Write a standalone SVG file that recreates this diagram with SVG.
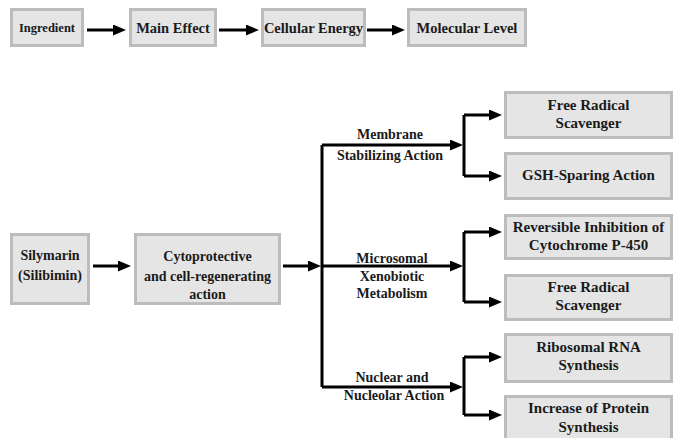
<svg xmlns="http://www.w3.org/2000/svg" width="676" height="438" viewBox="0 0 676 438">
<style>
.box{fill:#e5e5e5;stroke:#bcbcbc;stroke-width:3}
.t{font-family:'Liberation Serif','DejaVu Serif',serif;font-weight:700;font-size:14px;fill:#1a1a1a;text-anchor:middle}
.sm{font-size:12.5px}
.hd{font-size:14.5px}
.rb{font-size:15px}
.ln{fill:none;stroke:#000;stroke-width:3}
.ar{marker-end:url(#ah)}
</style>
<defs>
<marker id="ah" markerUnits="userSpaceOnUse" viewBox="0 0 13 11" markerWidth="13" markerHeight="11" refX="5" refY="5.5" orient="auto">
<path d="M0,0 L13,5.5 L0,11 z" fill="#000"/>
</marker>
</defs>
<rect width="676" height="438" fill="#fff"/>
<g id="ingredient"><rect class="box" x="11.5" y="9.5" width="71" height="36"/><text class="t sm" x="47" y="32">Ingredient</text></g>
<g id="main-effect"><rect class="box" x="130.5" y="9.5" width="85" height="36"/><text class="t hd" x="173" y="32.5">Main Effect</text></g>
<g id="cellular-energy"><rect class="box" x="262.5" y="9.5" width="102" height="36"/><text class="t hd" x="313.5" y="32.5">Cellular Energy</text></g>
<g id="molecular-level"><rect class="box" x="408.5" y="9.5" width="117" height="36"/><text class="t hd" x="467" y="32.5">Molecular Level</text></g>
<g id="silymarin"><rect class="box" x="11.5" y="234.5" width="77" height="69"/><text class="t" x="50" y="260">Silymarin</text><text class="t" x="50" y="280">(Silibimin)</text></g>
<g id="cytoprotective"><rect class="box" x="135.5" y="234.5" width="144" height="69"/><text class="t" x="207.5" y="261">Cytoprotective</text><text class="t" x="207.5" y="281">and cell-regenerating</text><text class="t" x="207.5" y="299">action</text></g>
<g id="free-radical-1"><rect class="box" x="505.5" y="92.5" width="166" height="45"/><text class="t rb" x="588.5" y="110">Free Radical</text><text class="t rb" x="588.5" y="128">Scavenger</text></g>
<g id="gsh-sparing"><rect class="box" x="505.5" y="153.5" width="166" height="45"/><text class="t rb" x="588.5" y="180">GSH-Sparing Action</text></g>
<g id="reversible-inhibition"><rect class="box" x="505.5" y="215.5" width="166" height="43"/><text class="t rb" x="588.5" y="232">Reversible Inhibition of</text><text class="t rb" x="588.5" y="250">Cytochrome P-450</text></g>
<g id="free-radical-2"><rect class="box" x="505.5" y="275.5" width="166" height="44"/><text class="t rb" x="588.5" y="292">Free Radical</text><text class="t rb" x="588.5" y="310">Scavenger</text></g>
<g id="ribosomal-rna"><rect class="box" x="505.5" y="334.5" width="166" height="47"/><text class="t rb" x="588.5" y="352">Ribosomal RNA</text><text class="t rb" x="588.5" y="370">Synthesis</text></g>
<g id="protein-synthesis"><rect class="box" x="505.5" y="396.5" width="166" height="47"/><text class="t rb" x="588.5" y="413">Increase of Protein</text><text class="t rb" x="588.5" y="432">Synthesis</text></g>
<g id="branch-labels">
<text class="t" x="390" y="139">Membrane</text><text class="t" x="390" y="160">Stabilizing Action</text>
<text class="t" x="392" y="263">Microsomal</text><text class="t" x="392" y="281">Xenobiotic</text><text class="t" x="392" y="298">Metabolism</text>
<text class="t" x="392" y="382">Nuclear and</text><text class="t" x="394" y="400">Nucleolar Action</text>
</g>
<g id="connectors">
<line class="ln ar" x1="87" y1="30" x2="118" y2="30"/>
<line class="ln ar" x1="219" y1="30" x2="251" y2="30"/>
<line class="ln ar" x1="367" y1="30" x2="397" y2="30"/>
<line class="ln ar" x1="93" y1="266" x2="123" y2="266"/>
<line class="ln ar" x1="283" y1="266" x2="313" y2="266"/>
<path class="ln" d="M322,387 V145"/>
<path class="ln ar" d="M322,145 H455"/>
<path class="ln ar" d="M322,266 H455"/>
<path class="ln ar" d="M322,387 H455"/>
<path class="ln" d="M464,115 V176"/>
<path class="ln ar" d="M464,115 H494"/>
<path class="ln ar" d="M464,176 H494"/>
<path class="ln" d="M464,232 V302"/>
<path class="ln ar" d="M464,232 H494"/>
<path class="ln ar" d="M464,302 H494"/>
<path class="ln" d="M464,357 V415"/>
<path class="ln ar" d="M464,357 H494"/>
<path class="ln ar" d="M464,415 H494"/>
</g>
</svg>
